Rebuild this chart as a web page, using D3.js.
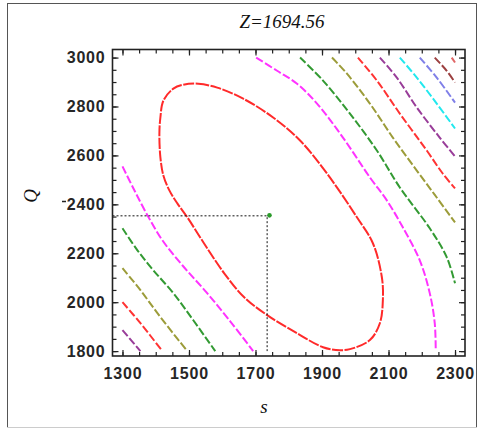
<!DOCTYPE html>
<html>
<head>
<meta charset="utf-8">
<script src="https://cdn.jsdelivr.net/npm/d3@7"></script>
<style>
  body { margin: 0; background: #fff; }
  svg { display: block; }
  .tick text { font-family: "Liberation Sans", Arial, sans-serif; font-weight: bold; font-size: 16px; fill: #262626; letter-spacing: 0.8px; }
</style>
</head>
<body>
<script>
// ---- data ----
const title = "Z=1694.56";
const xLabel = "s", yLabel = "Q";
const xTicks = [1300, 1500, 1700, 1900, 2100, 2300];
const yTicks = [1800, 2000, 2200, 2400, 2600, 2800, 3000];
const optimum = [1742, 2355];
const optimumLine = [1735, 2353];

// contour level 1 (closed ellipse)
const redEllipse = [[1483,2889],[1528,2893],[1585,2877],[1663,2832],[1753,2755],[1834,2661],[1915,2526],
  [2005,2347],[2053,2241],[2080,2102],[2083,2008],[2074,1914],[2044,1845],[1984,1808],[1954,1804],
  [1903,1816],[1825,1873],[1735,1947],[1666,2020],[1606,2118],[1545,2241],[1495,2347],[1465,2404],
  [1441,2457],[1423,2518],[1414,2592],[1411,2689],[1414,2755],[1423,2824],[1453,2873]];
// open contours: upper-right and lower-left branches
const magentaUpper = [[1702,3000],[1765,2946],[1825,2893],[1885,2812],[1963,2673],[2044,2510],[2095,2416],
  [2143,2306],[2194,2171],[2224,2037],[2239,1914],[2242,1800]];
const magentaLower = [[1300,2555],[1333,2465],[1372,2363],[1420,2253],[1480,2151],[1552,2041],[1624,1922],[1693,1800]];
const greenUpper = [[1834,3000],[1903,2906],[1984,2771],[2065,2620],[2134,2469],[2224,2302],[2275,2184],[2300,2077]];
const greenLower = [[1300,2302],[1345,2212],[1393,2130],[1453,2037],[1513,1926],[1579,1800]];
const oliveUpper = [[1930,3000],[1975,2934],[2044,2812],[2113,2673],[2185,2538],[2245,2428],[2300,2326]];
const oliveLower = [[1300,2139],[1354,2049],[1414,1939],[1495,1800]];
const red2Upper = [[2008,3000],[2065,2906],[2134,2771],[2215,2620],[2263,2526],[2300,2465]];
const red2Lower = [[1300,2000],[1354,1914],[1420,1800]];
const purpleUpper = [[2074,3000],[2125,2918],[2185,2796],[2254,2673],[2300,2596]];
const purpleLower = [[1300,1886],[1354,1800]];
const cyanUpper = [[2134,3000],[2185,2918],[2245,2812],[2300,2710]];
const slateUpper = [[2194,3000],[2245,2918],[2300,2816]];
const brownUpper = [[2239,3000],[2275,2946],[2300,2898]];
const pinkUpper = [[2290,3000],[2300,2980]];

const contours = [
  { pts: magentaUpper, color: "#ff33ff" }, { pts: magentaLower, color: "#ff33ff" },
  { pts: greenUpper, color: "#339a33" }, { pts: greenLower, color: "#339a33" },
  { pts: oliveUpper, color: "#9c9c3a" }, { pts: oliveLower, color: "#9c9c3a" },
  { pts: red2Upper, color: "#ff3333" }, { pts: red2Lower, color: "#ff3333" },
  { pts: purpleUpper, color: "#993d99" }, { pts: purpleLower, color: "#993d99" },
  { pts: cyanUpper, color: "#22e8ee" },
  { pts: slateUpper, color: "#8080e8" },
  { pts: brownUpper, color: "#9c4040" },
  { pts: pinkUpper, color: "#e06666" }
];

const width = 483, height = 432;
const svg = d3.select("body").append("svg").attr("width", width).attr("height", height);

// outer border
svg.append("rect").attr("x", 7.5).attr("y", 3.5).attr("width", 469).attr("height", 424)
  .attr("fill", "none").attr("stroke", "#555").attr("stroke-width", 1);
svg.append("line").attr("x1", 7).attr("x2", 477).attr("y1", 427.5).attr("y2", 427.5)
  .attr("stroke", "#ccc");

var x = d3.scaleLinear().domain([1270, 2330]).range([112.5, 465]);
var y = d3.scaleLinear().domain([1780, 3033]).range([356, 49.5]);

const x0 = x.range()[0], x1 = x.range()[1], y0 = y.range()[1], y1 = y.range()[0];

svg.append("clipPath").attr("id", "plotclip").append("rect")
  .attr("x", x0).attr("y", y0).attr("width", x1 - x0).attr("height", y1 - y0);

// contours
var line = d3.line().x(d => x(d[0])).y(d => y(d[1])).curve(d3.curveCatmullRom.alpha(0.5));
var lineClosed = d3.line().x(d => x(d[0])).y(d => y(d[1])).curve(d3.curveCatmullRomClosed.alpha(0.5));
var g = svg.append("g").attr("clip-path", "url(#plotclip)");

g.append("path").attr("d", lineClosed(redEllipse))
  .attr("fill", "none").attr("stroke", "#ff2a2a").attr("stroke-width", 2)
  .attr("stroke-dasharray", "11,1.5");

g.selectAll(".contour").data(contours).enter().append("path")
  .attr("class", "contour")
  .attr("d", d => line(d.pts))
  .attr("fill", "none")
  .attr("stroke", d => d.color)
  .attr("stroke-width", 2)
  .attr("stroke-dasharray", "8,2.5");

// optimum guide lines
g.append("path")
  .attr("d", `M${x0},${y(optimumLine[1])}H${x(optimumLine[0])}V${y(1800)}`)
  .attr("fill", "none").attr("stroke", "#111").attr("stroke-width", 1)
  .attr("stroke-dasharray", "2,2");
g.append("circle").attr("cx", x(optimum[0])).attr("cy", y(optimum[1])).attr("r", 2.3)
  .attr("fill", "#2a9a2a");

// axes - minor ticks
var xMinor = d3.range(1300, 2301, 50), yMinor = d3.range(1800, 3001, 50);
svg.append("g").attr("transform", `translate(0,${y1})`)
  .call(d3.axisBottom(x).tickValues(xMinor).tickSize(-4).tickFormat(""));
svg.append("g").attr("transform", `translate(0,${y0})`)
  .call(d3.axisTop(x).tickValues(xMinor).tickSize(-4).tickFormat(""));
svg.append("g").attr("transform", `translate(${x0},0)`)
  .call(d3.axisLeft(y).tickValues(yMinor).tickSize(-4).tickFormat(""));
svg.append("g").attr("transform", `translate(${x1},0)`)
  .call(d3.axisRight(y).tickValues(yMinor).tickSize(-4).tickFormat(""));

// axes - major ticks with labels
svg.append("g").attr("transform", `translate(0,${y1})`)
  .call(d3.axisBottom(x).tickValues(xTicks).tickSize(-6).tickPadding(12).tickFormat(d3.format("d")));
svg.append("g").attr("transform", `translate(0,${y0})`)
  .call(d3.axisTop(x).tickValues(xTicks).tickSize(-6).tickFormat(""));
svg.append("g").attr("transform", `translate(${x0},0)`)
  .call(d3.axisLeft(y).tickValues(yTicks).tickSize(-6).tickPadding(7).tickFormat(d3.format("d")));
svg.append("g").attr("transform", `translate(${x1},0)`)
  .call(d3.axisRight(y).tickValues(yTicks).tickSize(-6).tickFormat(""));

svg.selectAll(".domain").remove();
svg.selectAll(".tick line").attr("stroke", "#222").attr("stroke-width", 1.2);

// frame
svg.append("rect").attr("x", x0).attr("y", y0).attr("width", x1 - x0).attr("height", y1 - y0)
  .attr("fill", "none").attr("stroke", "#222").attr("stroke-width", 1.6);

// texts
svg.append("text").attr("x", 282).attr("y", 28).attr("text-anchor", "middle")
  .style("font-family", "'Liberation Serif', 'Times New Roman', serif").style("font-style", "italic")
  .style("font-size", "19px").attr("fill", "#111").text(title);
svg.append("text").attr("x", 264).attr("y", 413).attr("text-anchor", "middle")
  .style("font-family", "'Liberation Serif', 'Times New Roman', serif").style("font-style", "italic")
  .style("font-size", "19px").attr("fill", "#111").text(xLabel);
svg.append("text").attr("transform", "translate(37,196) rotate(-90)").attr("text-anchor", "middle")
  .style("font-family", "'Liberation Serif', 'Times New Roman', serif").style("font-style", "italic")
  .style("font-size", "19px").attr("fill", "#111").text(yLabel);
// stray mark left of the 2400 label
svg.append("line").attr("x1", 62).attr("x2", 66).attr("y1", 201.5).attr("y2", 201.5)
  .attr("stroke", "#222").attr("stroke-width", 1.5);
</script>
</body>
</html>
